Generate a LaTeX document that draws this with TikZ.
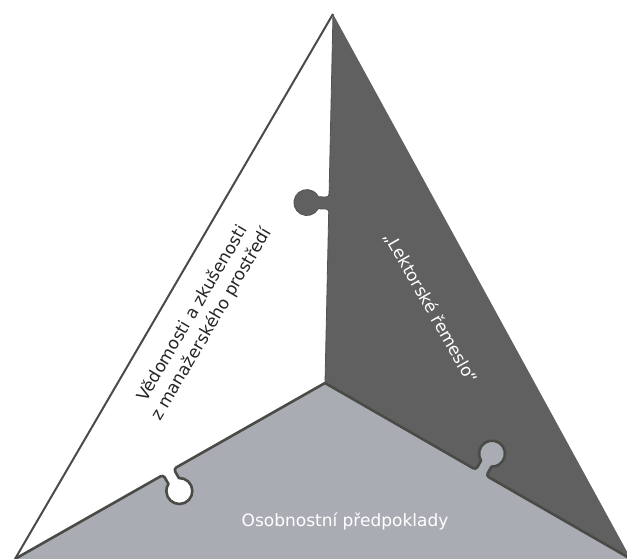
\documentclass[tikz,border=0pt]{standalone}
\usepackage{fontspec}
\setmainfont{DejaVu Sans}

\definecolor{darkpart}{HTML}{606060}
\definecolor{greypart}{HTML}{A9ACB3}
\definecolor{seamcol}{HTML}{4A4B46}

% one edge of a piece, laid along the x axis, knob on the +y side
\newcommand{\puzzleedge}[1]{(0,0) -- (171,0) arc[start angle=-90,end angle=0,radius=3] -- (174,10.5) arc[start angle=242.5,end angle=-62.5,radius=13] -- (186,3) arc[start angle=180,end angle=270,radius=3] -- (#1,0)}
\newcommand{\knobfill}{(171,-1.5) -- (171,0) arc[start angle=-90,end angle=0,radius=3] -- (174,10.5) arc[start angle=242.5,end angle=-62.5,radius=13] -- (186,3) arc[start angle=180,end angle=270,radius=3] -- (189,-1.5) -- cycle}

\begin{document}
\begin{tikzpicture}[
    x=1pt, y=1pt,
    seam/.style={
        draw=seamcol,
        line width=2.6pt,
        line join=round
    },
    rim/.style={
        draw=seamcol,
        line width=2pt
    },
    darktext/.style={
        text=black!85,
        font=\fontsize{17}{22}\selectfont,
        align=center
    },
    lighttext/.style={
        text=white,
        font=\fontsize{17}{22}\selectfont
    }
]

    \useasboundingbox (0,0) rectangle (627,559);

    \coordinate (apex) at (333,545);
    \coordinate (left) at (15,0);
    \coordinate (right) at (631,0);
    \coordinate (mid) at (325,176);

    % the three pieces
    \fill[white] (apex) -- (left) -- (mid) -- cycle;
    \fill[darkpart] (apex) -- (mid) -- (right) -- cycle;
    \fill[greypart] (mid) -- (left) -- (right) -- cycle;

    % knobs and seams
    \begin{scope}[shift={(mid)}, rotate=88.76]
        \fill[darkpart] \knobfill;
        \draw[draw=darkpart!85!black, line width=0.8pt] \puzzleedge{369};
    \end{scope}
    \begin{scope}[shift={(mid)}, rotate=209.58]
        \fill[white] \knobfill;
        \draw[seam] \puzzleedge{356.5};
    \end{scope}
    \begin{scope}[shift={(mid)}, rotate=-29.91]
        \fill[greypart] \knobfill;
        \draw[seam] \puzzleedge{353};
    \end{scope}

    \draw[rim] (apex) -- (left);

    % labels
    \node[darktext, rotate=59.5] (know) at (202,240)
        {Vědomosti a zkušenosti\\z manažerského prostředí};
    \node[lighttext, rotate=-60.5] (craft) at (431,251)
        {„Lektorské řemeslo“};
    \node[lighttext] (person) at (345,38)
        {Osobnostní předpoklady};

\end{tikzpicture}
\end{document}
